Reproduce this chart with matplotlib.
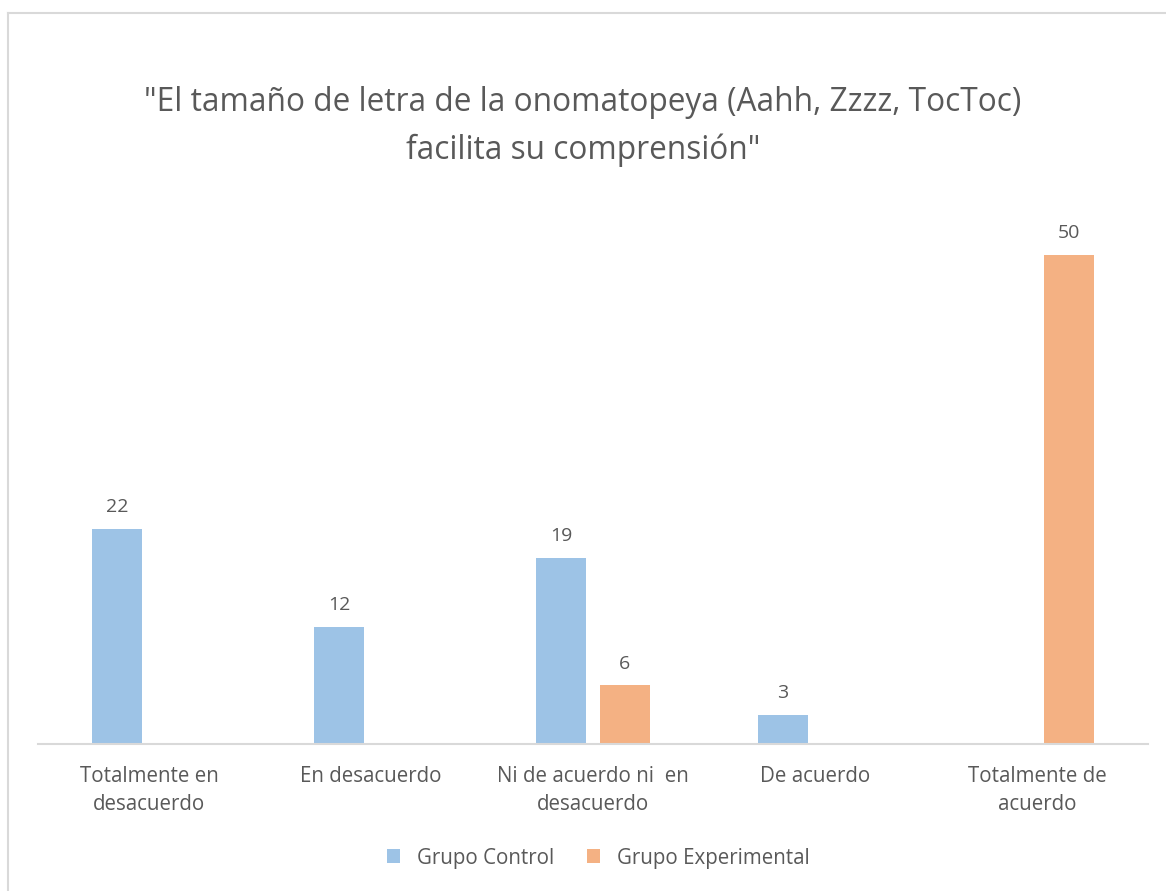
import numpy as np
import matplotlib.pyplot as plt
from matplotlib.lines import Line2D

categorias = ["Totalmente en\ndesacuerdo", "En desacuerdo", "Ni de acuerdo ni  en\ndesacuerdo",
              "De acuerdo", "Totalmente de\nacuerdo"]
control = [22, 12, 19, 3, 0]
experimental = [0, 0, 6, 0, 50]
titulo = "\"El tamaño de letra de la onomatopeya (Aahh, Zzzz, TocToc)\nfacilita su comprensión\""

plt.rcParams['font.family'] = ['Open Sans', 'DejaVu Sans']
gris = "#595959"
azul = "#9DC3E6"
naranja = "#F4B183"

fig = plt.figure(figsize=(11.66, 8.91), dpi=100)
ax = fig.add_axes([0.0326, 0.165, 0.952, 0.604])

x = np.arange(len(categorias))
ancho = 0.225
desp = 0.144

b1 = ax.bar(x - desp, control, ancho, color=azul, label="Grupo Control")
b2 = ax.bar(x + desp, experimental, ancho, color=naranja, label="Grupo Experimental")

for barras in (b1, b2):
    for r in barras:
        h = r.get_height()
        if h > 0:
            ax.text(r.get_x() + r.get_width() / 2, h + 1.3, str(int(h)), ha="center", va="bottom",
                    fontsize=14, color=gris)

ax.set_xlim(-0.5, len(categorias) - 0.5)
ax.set_ylim(0, 55)
ax.set_xticks(x)
ax.set_xticklabels(categorias, fontsize=14.8, color=gris, linespacing=1.45)
ax.tick_params(axis="x", length=0, pad=16)
ax.set_yticks([])
for s in ["top", "right", "left"]:
    ax.spines[s].set_visible(False)
ax.spines["bottom"].set_color("#D9D9D9")
ax.spines["bottom"].set_linewidth(1.5)

fig.text(0.5, 0.858, titulo, ha="center", va="center", fontsize=22.8, color=gris, linespacing=1.6)

fig.legend(loc="center", bbox_to_anchor=(0.513, 0.037), ncol=2, frameon=False, fontsize=14.8,
           labelcolor=gris, handlelength=0.65, handleheight=0.65, columnspacing=1.6, handletextpad=0.8)

# marco del gráfico
fig.add_artist(Line2D([8 / 1166, 8 / 1166], [0, 1 - 13 / 891], color="#D9D9D9", lw=1.5))
fig.add_artist(Line2D([8 / 1166, 1], [1 - 13 / 891, 1 - 13 / 891], color="#D9D9D9", lw=1.5))

fig.savefig("out.png", dpi=100)
